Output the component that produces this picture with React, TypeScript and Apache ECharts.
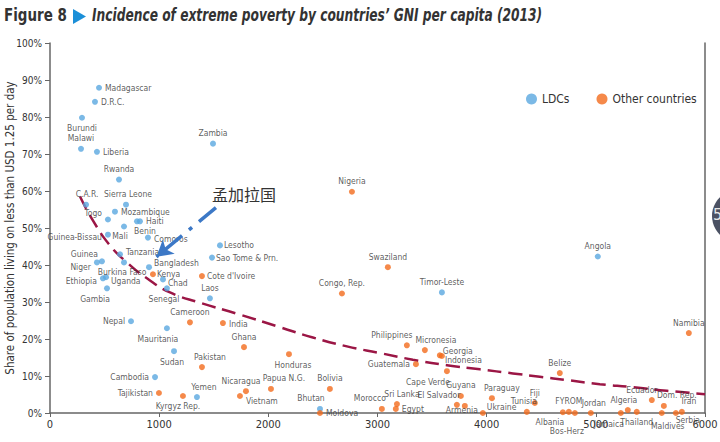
import React, { useEffect, useRef } from "react";
import * as echarts from "echarts";

// ---- Data (GNI per capita USD 2013, share living on < USD 1.25/day %) ----
const ldcNames = ["Madagascar", "D.R.C.", "Burundi", "Malawi", "Liberia", "Rwanda", "C.A.R.", "Sierra Leone", "Mozambique", "Togo", "Benin", "Haiti", "Mali", "Guinea-Bissau", "Comoros", "Lesotho", "Sao Tome & Prn.", "Tanzania", "Guinea", "Niger", "Burkina Faso", "Bangladesh", "Chad", "Uganda", "Ethiopia", "Gambia", "Senegal", "Laos", "Timor-Leste", "Angola", "Zambia", "Nepal", "Mauritania", "Sudan", "Cambodia", "Yemen", "Bhutan"];
const ldcGni = [449, 412, 293, 284, 430, 632, 330, 696, 595, 531, 797, 824, 678, 531, 897, 1557, 1484, 641, 476, 430, 678, 907, 1035, 513, 485, 522, 1071, 1465, 3590, 5018, 1493, 742, 1071, 1136, 962, 1346, 2473];
const ldcPoverty = [87.9, 84.1, 79.8, 71.4, 70.6, 63.1, 56.3, 56.3, 54.4, 52.3, 51.8, 51.8, 50.4, 48.2, 47.4, 45.3, 42.0, 42.9, 41.0, 40.7, 40.7, 39.4, 36.1, 36.7, 36.4, 33.7, 33.7, 31.0, 32.6, 42.3, 72.8, 24.8, 22.9, 16.7, 9.7, 4.3, 1.1];

const otherNames = ["Kenya", "Cote d'Ivoire", "Nigeria", "Swaziland", "Congo, Rep.", "Cameroon", "India", "Ghana", "Pakistan", "Honduras", "Tajikistan", "Kyrgyz Rep.", "Nicaragua", "Vietnam", "Papua N.G.", "Bolivia", "Moldova", "Morocco", "Sri Lanka", "Egypt", "Philippines", "Micronesia", "Georgia", "Indonesia", "Guatemala", "Cape Verde", "Guyana", "El Salvador", "Armenia", "Ukraine", "Paraguay", "Tunisia", "Fiji", "Belize", "Namibia", "Albania", "FYROM", "Bos-Herz", "Jordan", "Jamaica", "Algeria", "Thailand", "Ecuador", "Dom. Rep.", "Maldives", "Serbia", "Iran"];
const otherGni = [943, 1392, 2766, 3095, 2674, 1282, 1584, 1777, 1392, 2189, 998, 1218, 1795, 1740, 2024, 2564, 2473, 3040, 3178, 3168, 3269, 3434, 3571, 3590, 3352, 3636, 3764, 3727, 3800, 3965, 4048, 4368, 4441, 4670, 5852, 4698, 4753, 4808, 4954, 5229, 5293, 5375, 5513, 5623, 5604, 5733, 5788];
const otherPoverty = [37.5, 37.0, 59.8, 39.4, 32.3, 24.5, 24.3, 17.8, 12.4, 15.9, 5.4, 4.6, 5.9, 4.6, 6.5, 6.5, 0, 1.1, 2.4, 1.1, 18.3, 17.0, 15.6, 15.4, 13.2, 11.3, 4.6, 2.2, 1.9, 0, 4.0, 0.3, 2.7, 10.8, 21.6, 0.2, 0.3, 0, 0, 0, 0.8, 0.3, 3.5, 1.9, 0, 0, 0.3];

const trendGni = [275, 394, 549, 705, 888, 1099, 1374, 1740, 2106, 2408, 2720, 3022, 3324, 3636, 3938, 4240, 4487, 4734, 5037, 5339, 5650, 6000];
const trendPoverty = [58.5, 52.0, 45.3, 40.7, 36.4, 32.6, 29.8, 26.6, 23.2, 20.4, 18.0, 16.2, 14.4, 12.9, 11.8, 10.7, 9.8, 8.9, 7.8, 7.0, 6.0, 5.1];

const xTicks = [0, 1000, 2000, 3000, 4000, 5000, 6000];
const yTicks = [0, 10, 20, 30, 40, 50, 60, 70, 80, 90, 100];

// label placement: [position, dx, dy]
const labelPlacement: Record<string, [string, number, number]> = {
  "Madagascar": ["right", 0, 0], "D.R.C.": ["right", 0, 0], "Burundi": ["bottom", 0, 0], "Malawi": ["top", 0, 0],
  "Liberia": ["right", 0, 0], "Rwanda": ["top", 0, 0], "C.A.R.": ["top", 1, 0], "Sierra Leone": ["top", 2, 0],
  "Mozambique": ["right", 0, 0], "Togo": ["left", 0, -6], "Benin": ["bottom", 8, -1], "Haiti": ["right", 0, 0],
  "Mali": ["bottom", -4, -1], "Guinea-Bissau": ["left", 0, 2], "Comoros": ["right", 0, 1], "Lesotho": ["right", -2, 0],
  "Sao Tome & Prn.": ["right", -2, 0], "Tanzania": ["right", 0, -2], "Guinea": ["left", 2, -7], "Niger": ["left", 0, 5],
  "Burkina Faso": ["bottom", -2, -1], "Bangladesh": ["right", -1, -4], "Chad": ["right", -1, 4], "Uganda": ["right", -1, 4],
  "Ethiopia": ["left", 0, 3], "Gambia": ["bottom", -12, 0], "Senegal": ["bottom", -3, 0], "Laos": ["top", 0, 0],
  "Timor-Leste": ["top", 0, 0], "Angola": ["top", 0, 0], "Zambia": ["top", 0, 0], "Nepal": ["left", 0, 0],
  "Mauritania": ["bottom", -9, 0], "Sudan": ["bottom", -2, 0], "Cambodia": ["left", 0, 0], "Yemen": ["top", 7, 0],
  "Bhutan": ["top", -9, 0],
  "Kenya": ["right", -2, 0], "Cote d'Ivoire": ["right", -1, 0], "Nigeria": ["top", 0, 0], "Swaziland": ["top", 0, 0],
  "Congo, Rep.": ["top", 0, 0], "Cameroon": ["top", 0, 0], "India": ["right", 0, 1], "Ghana": ["top", 0, 0],
  "Pakistan": ["top", 8, 0], "Honduras": ["bottom", 4, 0], "Tajikistan": ["left", 0, 0], "Kyrgyz Rep.": ["bottom", -5, 0],
  "Nicaragua": ["top", -5, 0], "Vietnam": ["right", 0, 5], "Papua N.G.": ["top", 13, 0], "Bolivia": ["top", 0, 0],
  "Moldova": ["right", 0, 0], "Morocco": ["top", -12, 0], "Sri Lanka": ["top", 5, 0], "Egypt": ["right", 0, 0],
  "Philippines": ["top", -15, 0], "Micronesia": ["top", 11, 0], "Georgia": ["right", -3, -4], "Indonesia": ["right", -3, 4],
  "Guatemala": ["left", 0, 0], "Cape Verde": ["bottom", -19, 0], "Guyana": ["top", 0, 0], "El Salvador": ["top", -18, 1],
  "Armenia": ["bottom", -3, -6], "Ukraine": ["right", -2, -6], "Paraguay": ["top", 10, 0], "Tunisia": ["top", -3, 0],
  "Fiji": ["top", 0, 0], "Belize": ["top", 0, 0], "Namibia": ["top", 0, 0], "Albania": ["bottom", -13, -1],
  "FYROM": ["top", 0, 0], "Bos-Herz": ["bottom", -8, 7], "Jordan": ["top", 3, 0], "Jamaica": ["bottom", -12, 0],
  "Algeria": ["top", -4, 0], "Thailand": ["bottom", 0, 0], "Ecuador": ["top", -10, 0], "Dom. Rep.": ["top", 13, 0],
  "Maldives": ["bottom", 6, 2], "Serbia": ["bottom", 12, -4], "Iran": ["top", 7, 0],
};

const FONT = "'DejaVu Sans Condensed', 'DejaVu Sans', sans-serif";

function buildPoints(names: string[], gni: number[], pov: number[]) {
  return names.map((n, i) => {
    const p = labelPlacement[n] || ["right", 0, 0];
    return {
      name: n,
      value: [gni[i], pov[i]],
      label: { position: p[0] },
    };
  });
}

function layoutFor(names: string[]) {
  return (params: any) => {
    const p = labelPlacement[names[params.dataIndex]] || ["right", 0, 0];
    return { dx: p[1], dy: p[2], hideOverlap: false };
  };
}

export default function App() {
  const ref = useRef<HTMLDivElement>(null);
  useEffect(() => {
    if (!ref.current) return;
    const chart = echarts.init(ref.current, null, { renderer: "svg" });
    const pointLabel = {
      show: true,
      formatter: (p: any) => p.name,
      fontFamily: FONT,
      fontSize: 8.5,
      color: "#333",
      distance: 3,
    };
    chart.setOption({
      animation: false,
      backgroundColor: "#fff",
      grid: { left: 50, right: 15, top: 43, bottom: 29, containLabel: false, outerBoundsMode: "none" },
      legend: {
        left: 521,
        top: 88,
        icon: "circle",
        itemWidth: 11,
        itemHeight: 11,
        itemGap: 27,
        textStyle: { fontFamily: FONT, fontSize: 12, color: "#333" },
        data: ["LDCs", "Other countries"],
      },
      xAxis: {
        type: "value",
        min: xTicks[0],
        max: xTicks[xTicks.length - 1],
        interval: 1000,
        splitLine: { show: false },
        axisLine: { show: true, lineStyle: { color: "#666", width: 1.5 } },
        axisTick: { show: true, length: 4, lineStyle: { color: "#666" } },
        axisLabel: { fontFamily: FONT, fontSize: 11, color: "#333", margin: 6, formatter: (v: number) => String(v) },
      },
      yAxis: [
        {
          type: "value",
          min: yTicks[0],
          max: yTicks[yTicks.length - 1],
          interval: 10,
          name: "Share of population living on less than USD 1.25 per day",
          nameLocation: "middle",
          nameGap: 34,
          nameMoveOverlap: false,
          nameTextStyle: { fontFamily: FONT, fontSize: 11.5, color: "#333" },
          splitLine: { show: false },
          axisLine: { show: true, lineStyle: { color: "#666", width: 1.5 } },
          axisTick: { show: true, length: 5, lineStyle: { color: "#666" } },
          axisLabel: { fontFamily: FONT, fontSize: 10, color: "#333", margin: 8, formatter: "{value}%" },
        },
        {
          type: "value",
          min: 0,
          max: 100,
          interval: 10,
          position: "right",
          splitLine: { show: false },
          axisLine: { show: true, lineStyle: { color: "#666", width: 1.5 } },
          axisTick: { show: false },
          axisLabel: { show: false },
        },
      ],
      graphic: [
        {
          type: "text",
          x: 4,
          y: 7,
          scaleX: 0.88,
          style: { text: "Figure 8", fontFamily: FONT, fontWeight: "bold", fontSize: 17, fill: "#333" },
        },
        {
          type: "polygon",
          shape: { points: [[73, 9], [86, 16.5], [73, 24]] },
          style: { fill: "#1b8fd8" },
        },
        {
          type: "text",
          x: 92,
          y: 7,
          scaleX: 0.8,
          style: {
            text: "Incidence of extreme poverty by countries\u2019 GNI per capita (2013)",
            fontFamily: FONT,
            fontStyle: "italic",
            fontWeight: "bold",
            fontSize: 17,
            fill: "#333",
          },
        },
        {
          type: "text",
          x: 212,
          y: 186,
          style: { text: "孟加拉国", fontFamily: "'Noto Sans CJK SC', sans-serif", fontSize: 16, fill: "#333" },
        },
        {
          type: "circle",
          shape: { cx: 738, cy: 216, r: 26 },
          style: { fill: "#4b5163" },
          z: 100,
        },
        {
          type: "text",
          x: 713,
          y: 206,
          z: 101,
          style: { text: "5", fontFamily: FONT, fontSize: 16, fill: "#e6e6e6" },
        },
      ],
      series: [
        {
          name: "trend",
          type: "line",
          data: trendGni.map((g, i) => [g, trendPoverty[i]]),
          smooth: true,
          showSymbol: false,
          symbol: "none",
          lineStyle: { color: "#9b1645", width: 2.5, type: [14, 7] },
          z: 1,
          silent: true,
        },
        {
          name: "LDCs",
          type: "scatter",
          symbolSize: 6,
          itemStyle: { color: "#5aa8e0" },
          label: pointLabel,
          labelLayout: layoutFor(ldcNames),
          data: buildPoints(ldcNames, ldcGni, ldcPoverty),
          z: 3,
          markLine: {
            silent: true,
            symbol: ["none", "arrow"],
            symbolSize: [14, 16],
            label: { show: false },
            lineStyle: { color: "#3c78c6", width: 3.5, type: [22, 9, 4, 9] },
            data: [[{ coord: [1520, 55.5] }, { coord: [975, 42.2] }]],
          },
        },
        {
          name: "Other countries",
          type: "scatter",
          symbolSize: 6,
          itemStyle: { color: "#f26b1d" },
          label: pointLabel,
          labelLayout: layoutFor(otherNames),
          data: buildPoints(otherNames, otherGni, otherPoverty),
          z: 3,
        },
      ],
    });
    return () => chart.dispose();
  }, []);
  return <div ref={ref} style={{ width: 720, height: 442, position: "absolute", left: 0, top: 0 }} />;
}
